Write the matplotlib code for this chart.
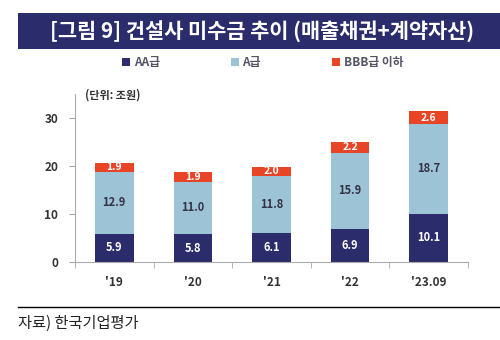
import matplotlib
matplotlib.use('Agg')
from matplotlib import pyplot as plt
from matplotlib.patches import Rectangle
from matplotlib.lines import Line2D
import numpy as np

plt.rcParams['font.family'] = ['Noto Sans CJK KR', 'DejaVu Sans']

# data ###################################################################
years = ["'19", "'20", "'21", "'22", "'23.09"]
aa = [5.9, 5.8, 6.1, 6.9, 10.1]
a = [12.9, 11.0, 11.8, 15.9, 18.7]
bbb = [1.9, 1.9, 2.0, 2.2, 2.6]
series_names = ['AA급', 'A급', 'BBB급 이하']

navy = '#2b2c6c'
light = '#9dc3d6'
red = '#e84527'

fig = plt.figure(figsize=(5, 3.4), dpi=100)

# title banner ###########################################################
fig.patches.append(Rectangle((0.036, 0.855), 0.964, 0.108, transform=fig.transFigure,
                             facecolor='#2b2c6c', edgecolor='none'))
fig.text(0.525, 0.905, '[그림 9] 건설사 미수금 추이 (매출채권+계약자산)', color='white',
         fontsize=15, fontweight='bold', ha='center', va='center')

# chart ##################################################################
ax = fig.add_axes([0.15, 0.229, 0.786, 0.494])
x = np.arange(len(years))
w = 0.49
ax.bar(x, aa, w, color=navy, label=series_names[0])
ax.bar(x, a, w, bottom=aa, color=light, label=series_names[1])
bot2 = np.array(aa) + np.array(a)
ax.bar(x, bbb, w, bottom=bot2, color=red, label=series_names[2])

for i in range(len(x)):
    ax.text(x[i], aa[i] / 2, f'{aa[i]:.1f}', ha='center', va='center',
            color='white', fontsize=8, fontweight='bold')
    ax.text(x[i], aa[i] + a[i] / 2, f'{a[i]:.1f}', ha='center', va='center',
            color='#333344', fontsize=8, fontweight='bold')
    ax.text(x[i], bot2[i] + bbb[i] / 2, f'{bbb[i]:.1f}', ha='center', va='center',
            color='white', fontsize=7.5, fontweight='bold')

ax.set_xlim(-0.5, 4.5)
ax.set_ylim(0, 35)
ax.set_yticks([0, 10, 20, 30])
ax.set_xticks(x)
ax.set_xticklabels(years)
ax.set_xticks(np.arange(-0.5, 5, 1), minor=True)
ax.tick_params(axis='x', which='major', length=0, pad=10, labelsize=8.5, labelcolor='#333333')
ax.tick_params(axis='x', which='minor', length=4, color='#aaaaaa', direction='out')
ax.tick_params(axis='y', length=4, color='#aaaaaa', labelsize=8.5, labelcolor='#333333', pad=8)
for l in ax.get_xticklabels() + ax.get_yticklabels():
    l.set_fontweight('bold')
for s in ['top', 'right']:
    ax.spines[s].set_visible(False)
for s in ['left', 'bottom']:
    ax.spines[s].set_color('#aaaaaa')

fig.text(0.17, 0.72, '(단위: 조원)', fontsize=8, fontweight='bold', color='#333333',
         ha='left', va='center')

# legend #################################################################
leg = fig.legend(loc='center', bbox_to_anchor=(0.525, 0.815), ncol=3, frameon=False,
                 fontsize=8.5, handlelength=0.7, handleheight=0.7, handletextpad=0.3,
                 columnspacing=6)
for t in leg.get_texts():
    t.set_color('#555566')
    t.set_fontweight('bold')

# source line ############################################################
fig.add_artist(Line2D([0.036, 1.0], [0.097, 0.097], transform=fig.transFigure,
                      color='black', lw=1))
fig.text(0.036, 0.05, '자료) 한국기업평가', fontsize=11, ha='left', va='center', color='#222222')

plt.savefig('out.png', dpi=100)
